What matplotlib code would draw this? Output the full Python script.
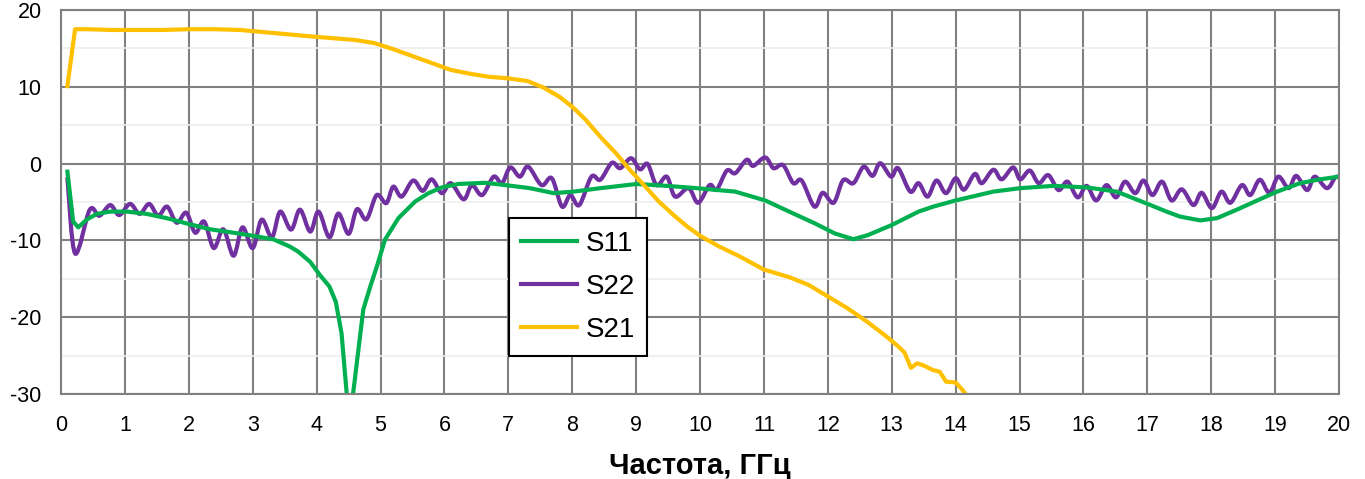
import matplotlib.pyplot as plt
from matplotlib.path import Path
from matplotlib.patches import PathPatch
from matplotlib.lines import Line2D
import numpy as np

# S-parameters, dB vs frequency, GHz
s21_f = [0.1, 0.22, 0.4, 0.8, 1.2, 1.6, 2.0, 2.4, 2.8, 3.2, 3.6, 4.0, 4.3, 4.6,
         4.9, 5.2, 5.5, 5.8, 6.1, 6.4, 6.7, 7.0, 7.3, 7.55, 7.8, 8.0, 8.2, 8.45,
         8.7, 8.9, 9.1, 9.35, 9.6, 9.8, 10.0, 10.3, 10.6, 11.0, 11.4, 11.7, 12.0,
         12.3, 12.6, 12.9, 13.1, 13.2, 13.3, 13.4, 13.5, 13.65, 13.75, 13.85,
         14.0, 14.1, 14.2]
s21_db = [10.1, 17.5, 17.5, 17.4, 17.4, 17.4, 17.5, 17.5, 17.4, 17.1, 16.8, 16.5,
          16.3, 16.1, 15.7, 14.9, 14.0, 13.1, 12.2, 11.7, 11.3, 11.1, 10.75, 9.9,
          8.7, 7.4, 5.8, 3.4, 1.2, -0.8, -2.6, -4.9, -6.8, -8.2, -9.4, -10.8,
          -12.0, -13.8, -14.8, -15.8, -17.3, -18.8, -20.5, -22.4, -23.8, -24.6,
          -26.6, -26.0, -26.3, -26.9, -27.1, -28.4, -28.5, -29.4, -30.5]

s11_f = [0.1, 0.19, 0.27, 0.4, 0.56, 0.77, 1.03, 1.34, 1.65, 1.97, 2.33, 2.7, 3.0,
         3.32, 3.58, 3.71, 3.9, 4.05, 4.2, 4.3, 4.39, 4.47, 4.52, 4.57, 4.65,
         4.73, 4.84, 4.95, 5.07, 5.28, 5.54, 5.75, 5.96, 6.22, 6.64, 6.95, 7.34,
         7.71, 8.02, 8.44, 9.01, 9.48, 9.95, 10.55, 11.02, 11.46, 11.8, 12.11,
         12.4, 12.63, 13.0, 13.42, 13.65, 14.0, 14.59, 15.01, 15.53, 16.05,
         16.52, 16.99, 17.3, 17.51, 17.83, 18.09, 18.4, 18.76, 19.03, 19.39,
         19.7, 20.0]
s11_db = [-1.05, -7.55, -8.3, -7.3, -6.55, -6.25, -6.25, -6.55, -7.1, -7.8, -8.55,
          -9.0, -9.4, -9.85, -10.8, -11.45, -12.8, -14.5, -16.0, -18.0, -22.1,
          -29.9, -34.0, -30.0, -24.5, -19.0, -16.0, -13.2, -9.9, -7.1, -4.95,
          -3.85, -3.1, -2.65, -2.5, -2.8, -3.2, -3.85, -3.65, -3.2, -2.65, -2.9,
          -3.2, -3.65, -4.8, -6.5, -7.8, -9.1, -9.85, -9.3, -8.0, -6.25, -5.6,
          -4.8, -3.65, -3.2, -2.9, -3.1, -3.65, -5.2, -6.25, -6.9, -7.4, -7.1,
          -6.0, -4.65, -3.65, -2.55, -2.05, -1.7]

s22_f = [0.1, 0.22, 0.45, 0.6, 0.77, 0.91, 1.08, 1.23, 1.38, 1.52, 1.66, 1.81,
         1.96, 2.1, 2.24, 2.39, 2.54, 2.70, 2.84, 3.0, 3.14, 3.30, 3.43, 3.60,
         3.74, 3.90, 4.03, 4.2, 4.34, 4.5, 4.63, 4.78, 4.94, 5.09, 5.2, 5.33,
         5.51, 5.66, 5.8, 5.96, 6.1, 6.3, 6.43, 6.59, 6.77, 6.9, 7.03, 7.18,
         7.31, 7.52, 7.68, 7.84, 7.97, 8.11, 8.3, 8.44, 8.62, 8.75, 8.92, 9.06,
         9.18, 9.32, 9.48, 9.61, 9.82, 9.97, 10.15, 10.26, 10.42, 10.55, 10.73,
         10.83, 11.02, 11.15, 11.30, 11.46, 11.59, 11.79, 11.92, 12.09, 12.24,
         12.40, 12.56, 12.70, 12.82, 12.99, 13.1, 13.29, 13.42, 13.56, 13.7,
         13.85, 14.0, 14.13, 14.30, 14.41, 14.59, 14.72, 14.9, 15.01, 15.16,
         15.3, 15.45, 15.61, 15.75, 15.91, 16.05, 16.2, 16.36, 16.51, 16.65,
         16.81, 16.94, 17.08, 17.23, 17.38, 17.54, 17.72, 17.85, 18.01, 18.16,
         18.3, 18.48, 18.61, 18.76, 18.91, 19.05, 19.21, 19.33, 19.5, 19.62,
         19.81, 19.94, 20.0]
s22_db = [-1.9, -11.7, -6.0, -6.8, -5.4, -6.7, -5.25, -6.55, -5.25, -6.8, -5.6,
          -7.7, -6.4, -9.0, -7.55, -11.0, -8.55, -12.0, -8.3, -11.0, -7.3, -9.6,
          -6.25, -8.6, -6.0, -8.85, -6.25, -9.6, -6.5, -9.15, -5.95, -7.25,
          -4.1, -5.15, -3.0, -4.3, -2.2, -3.55, -2.05, -3.85, -2.55, -4.65,
          -2.8, -4.1, -1.7, -2.55, -0.5, -1.7, -0.4, -2.8, -1.9, -5.6, -4.1,
          -5.4, -1.7, -2.1, 0.1, -0.6, 0.7, -0.75, -0.05, -2.8, -1.7, -4.3,
          -3.2, -5.1, -2.8, -3.4, -0.9, -1.25, 0.5, -0.3, 0.8, -0.6, -0.2,
          -2.55, -2.2, -5.6, -3.8, -5.1, -2.15, -2.55, -0.4, -1.6, 0.05, -1.7,
          -0.6, -3.65, -2.55, -4.3, -2.2, -3.85, -1.9, -3.4, -1.35, -2.55,
          -0.8, -2.05, -0.5, -2.05, -0.9, -2.55, -1.5, -3.45, -2.35, -4.4,
          -2.9, -4.8, -2.8, -4.4, -2.35, -3.85, -2.2, -4.1, -2.35, -4.8,
          -3.35, -5.4, -3.8, -5.8, -3.65, -5.1, -2.8, -4.1, -2.1, -3.8, -1.7,
          -3.2, -1.6, -3.45, -1.7, -3.2, -1.8, -1.8]

GREEN = "#00B050"
PURPLE = "#7030A0"
YELLOW = "#FFC000"


def smooth_path(x, y):
    # Catmull-Rom through the points, written as cubic Bezier segments
    p = np.column_stack([x, y]).astype(float)
    p_ext = np.vstack([p[0], p, p[-1]])
    verts = [p[0]]
    codes = [Path.MOVETO]
    for i in range(1, len(p_ext) - 2):
        p0, p1, p2, p3 = p_ext[i - 1], p_ext[i], p_ext[i + 1], p_ext[i + 2]
        verts += [p1 + (p2 - p0) / 6, p2 - (p3 - p1) / 6, p2]
        codes += [Path.CURVE4] * 3
    return Path(verts, codes)


plt.rcParams["font.family"] = ["Liberation Sans", "DejaVu Sans"]
plt.rcParams["axes.unicode_minus"] = False

fig = plt.figure(figsize=(13.65, 4.79), dpi=100)
ax = fig.add_axes([0.0447, 0.1775, 0.9363, 0.8016])

ax.plot(s11_f, s11_db, color=GREEN, lw=3, solid_joinstyle="round")
ax.add_patch(PathPatch(smooth_path(s22_f, s22_db), facecolor="none",
                       edgecolor=PURPLE, lw=3, capstyle="round",
                       joinstyle="round", transform=ax.transData))
ax.plot(s21_f, s21_db, color=YELLOW, lw=3, solid_joinstyle="round")

ax.set_xlim(0, 20)
ax.set_ylim(-30, 20)
ax.set_xticks(range(0, 21))
ax.set_yticks(range(-30, 21, 10))
ax.set_yticks(range(-25, 20, 10), minor=True)
ax.grid(True, which="major", color="#808080", lw=1.5)
ax.grid(True, which="minor", axis="y", color="#EDEDED", lw=1.2)
ax.set_axisbelow(True)
ax.tick_params(which="both", length=0, labelsize=15.5)
ax.tick_params(axis="x", pad=15)
ax.tick_params(axis="y", pad=14)
for sp in ax.spines.values():
    sp.set_color("#808080")
    sp.set_linewidth(1.5)

ax.set_xlabel("Частота, ГГц", fontsize=21, fontweight="bold", labelpad=12)

handles = [Line2D([], [], color=GREEN, lw=3),
           Line2D([], [], color=PURPLE, lw=3),
           Line2D([], [], color=YELLOW, lw=3)]
leg = ax.legend(handles, ["S11", "S22", "S21"], loc="lower left",
                bbox_to_anchor=(0.3505, 0.1), fontsize=20, handlelength=2.0,
                handletextpad=0.3, labelspacing=0.62, borderpad=0.45,
                borderaxespad=0, fancybox=False, framealpha=1,
                edgecolor="black")
leg.get_frame().set_linewidth(1.5)

fig.savefig("out.png", dpi=100)
